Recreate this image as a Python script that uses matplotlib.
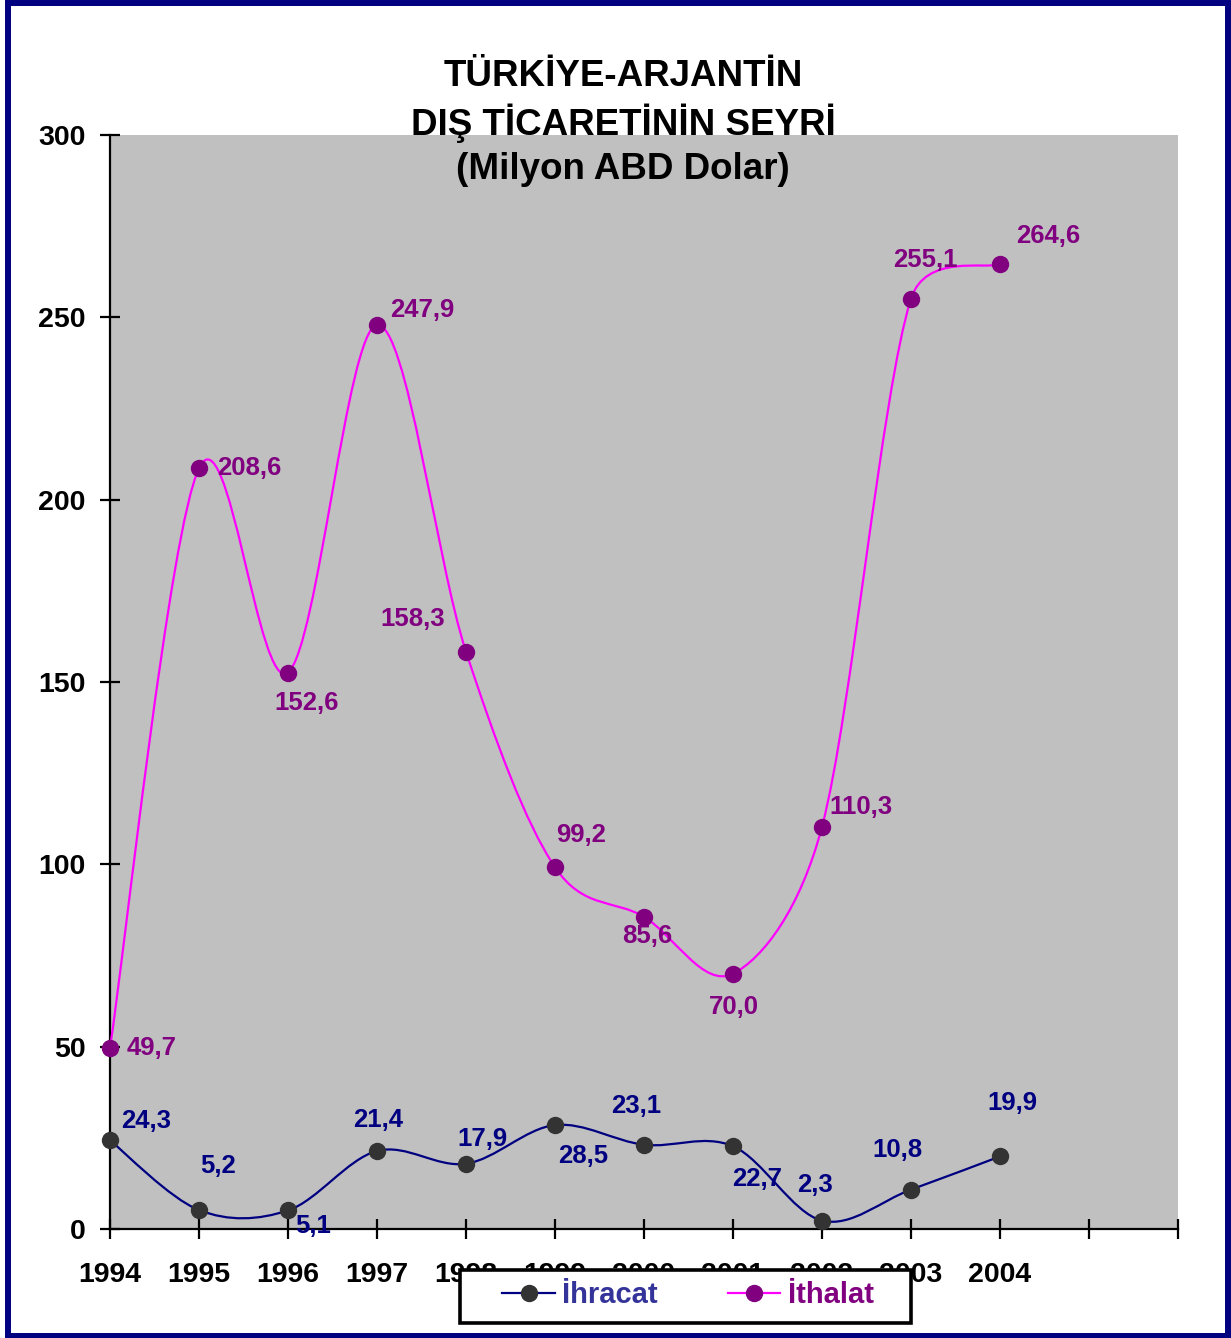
import numpy as np
import matplotlib
matplotlib.use('Agg')
import matplotlib.pyplot as plt
from matplotlib.path import Path
from matplotlib.patches import PathPatch, Rectangle
from matplotlib.lines import Line2D

plt.rcParams['font.family'] = ['Liberation Sans', 'DejaVu Sans']
plt.rcParams['font.weight'] = 'bold'

####################################################
# Data
####################################################
years = [1994, 1995, 1996, 1997, 1998, 1999, 2000, 2001, 2002, 2003, 2004]
ihracat = [24.3, 5.2, 5.1, 21.4, 17.9, 28.5, 23.1, 22.7, 2.3, 10.8, 19.9]
ithalat = [49.7, 208.6, 152.6, 247.9, 158.3, 99.2, 85.6, 70.0, 110.3, 255.1, 264.6]
tick_years = list(range(1994, 2007))
tick_labels = [str(y) for y in years] + ['', '']
title = 'TÜRKİYE-ARJANTİN\nDIŞ TİCARETİNİN SEYRİ\n(Milyon ABD Dolar)'

# label offsets in pixels (dx, dy up)
off_ihr = [(36, 19), (19, 44), (25, -16), (1, 31), (16, 25), (28, -31),
           (-8, 39), (24, -33), (-7, 36), (-14, 40), (12, 53)]
off_ith = [(42, 0), (50, 0), (19, -30), (45, 15), (-53, 33), (26, 32),
           (3, -19), (1, -33), (39, 20), (14, 39), (48, 28)]

W, H = 1231, 1338
NAVY = '#000080'
PURPLE = '#800080'


def smooth_path(ax, xs, ys):
    # smoothed line like Excel: bezier segments, tangent (P2-P0)/6,
    # clamped on short segments, built in screen space
    pts = ax.transData.transform(np.column_stack([xs, ys]))
    n = len(pts)
    verts = [pts[0]]
    codes = [Path.MOVETO]
    for i in range(n - 1):
        p1, p2 = pts[i], pts[i + 1]
        lim = np.hypot(*(p2 - p1)) * 0.5
        v1 = (pts[min(i + 1, n - 1)] - pts[max(i - 1, 0)]) / 6.0
        v2 = (pts[min(i + 2, n - 1)] - pts[i]) / 6.0
        if np.hypot(*v1) > lim:
            v1 = v1 * lim / np.hypot(*v1)
        if np.hypot(*v2) > lim:
            v2 = v2 * lim / np.hypot(*v2)
        verts += [p1 + v1, p2 - v2, p2]
        codes += [Path.CURVE4] * 3
    verts = ax.transData.inverted().transform(np.array(verts))
    return Path(verts, codes)


fig = plt.figure(figsize=(W / 100, H / 100), dpi=100)
ax = fig.add_axes([110 / W, 1 - 1229 / H, (1178 - 110) / W, (1229 - 135) / H])
ax.set_facecolor('#C0C0C0')
ax.set_xlim(1994, 2006)
ax.set_ylim(0, 300)

for s in ['top', 'right']:
    ax.spines[s].set_visible(False)
for s in ['left', 'bottom']:
    ax.spines[s].set_linewidth(1.6)
    ax.spines[s].set_color('black')

ax.set_xticks(tick_years)
ax.set_xticklabels(tick_labels)
ax.set_yticks(range(0, 301, 50))
ax.tick_params(axis='both', direction='inout', length=15, width=1.6,
               labelsize=20.5, colors='black')
ax.tick_params(axis='x', pad=16)
ax.tick_params(axis='y', pad=10)
for lab in ax.get_xticklabels() + ax.get_yticklabels():
    lab.set_fontweight('bold')

series = [(ihracat, NAVY, '#333333', NAVY, off_ihr),
          (ithalat, '#FF00FF', PURPLE, PURPLE, off_ith)]
for vals, lc, mc, tc, offs in series:
    ax.add_patch(PathPatch(smooth_path(ax, years, vals), facecolor='none',
                           edgecolor=lc, lw=1.6, zorder=3, clip_on=False))
    ax.plot(years, vals, ls='none', marker='o', ms=11.5, color=mc,
            zorder=4, clip_on=False)
    for x, v, (dx, dy) in zip(years, vals, offs):
        ax.annotate(f'{v:.1f}'.replace('.', ','), (x, v), xytext=(dx, dy),
                    textcoords='offset pixels', ha='center', va='center',
                    fontsize=18.5, fontweight='bold', color=tc, zorder=5,
                    annotation_clip=False)

fig.text(623 / W, 1 - 123 / H, title, ha='center', va='center',
         fontsize=26.5, fontweight='bold', linespacing=1.32)

# legend box
box = Rectangle((460 / W, 1 - 1323 / H), (911 - 460) / W, (1323 - 1270) / H,
                transform=fig.transFigure, facecolor='white', edgecolor='black',
                lw=2.6, zorder=4)
fig.patches.append(box)
handles = [Line2D([], [], color=NAVY, lw=1.6, marker='o', ms=11.5,
                  markerfacecolor='#333333', markeredgecolor='#333333'),
           Line2D([], [], color='#FF00FF', lw=1.6, marker='o', ms=11.5,
                  markerfacecolor=PURPLE, markeredgecolor=PURPLE)]
leg = fig.legend(handles, ['İhracat', 'İthalat'], ncol=2, loc='center',
                 bbox_to_anchor=(688 / W, 1 - 1295 / H), frameon=False,
                 prop={'size': 21, 'weight': 'bold'}, handlelength=1.8,
                 handletextpad=0.25, columnspacing=2.4, borderpad=0.2)
leg.set_zorder(6)
for t, c in zip(leg.get_texts(), ['#333399', PURPLE]):
    t.set_color(c)

# outer border
border = Rectangle((8 / W, 1 - 1336 / H), (1228 - 8) / W, (1336 - 3) / H,
                   transform=fig.transFigure, facecolor='none', edgecolor=NAVY,
                   lw=4.3, zorder=10)
fig.patches.append(border)

fig.savefig('out.png', dpi=100, facecolor='white')
